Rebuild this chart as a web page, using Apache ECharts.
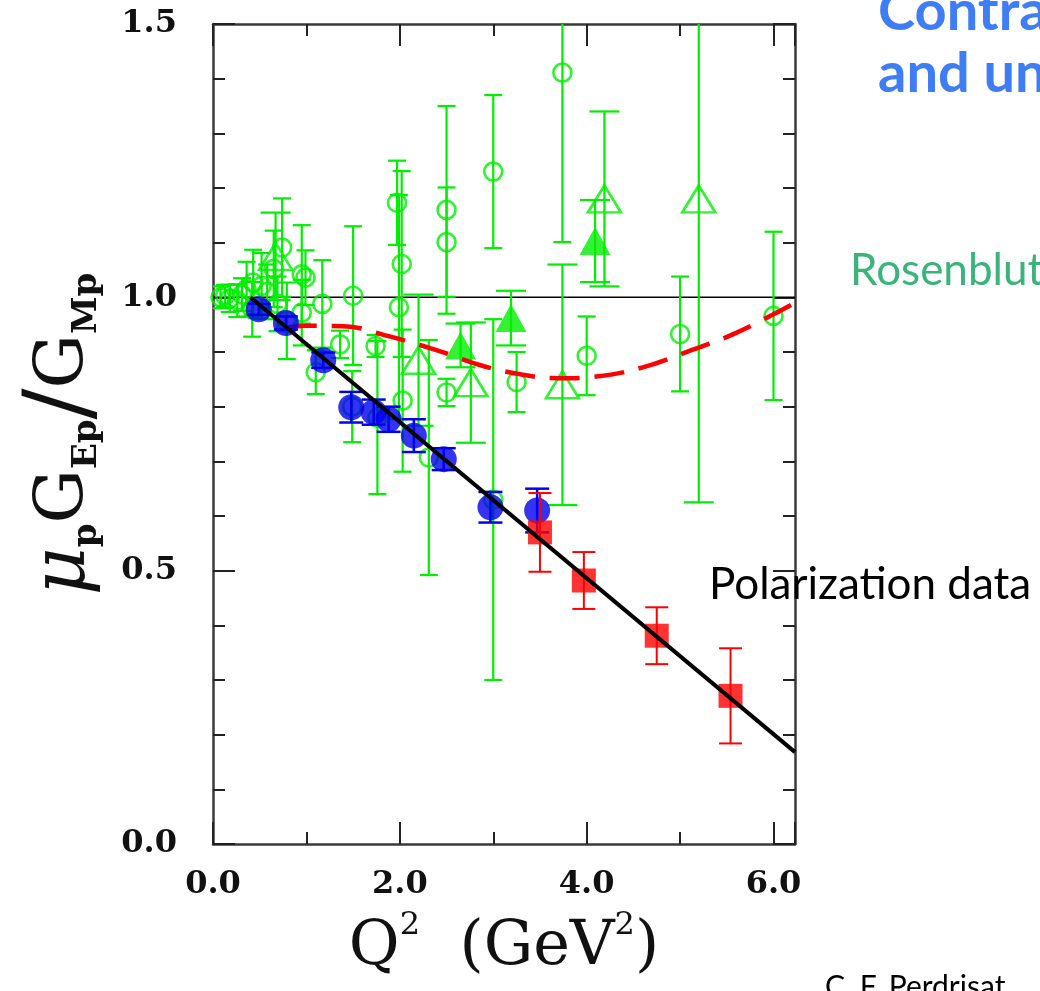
<!DOCTYPE html>
<html>
<head>
<meta charset="utf-8">
<script src="https://cdn.jsdelivr.net/npm/echarts@6/dist/echarts.min.js"></script>
<style>
html,body{margin:0;padding:0;background:#fff;}
#chart{width:1040px;height:991px;}
</style>
</head>
<body>
<div id="chart"></div>
<script>
// ---------------- data ----------------
// Rosenbluth (green) open circles: [Q2, ratio, error]
const rosenCircles = [
  [0.08, 1.000, 0.020], [0.13, 1.003, 0.020], [0.18, 0.998, 0.025],
  [0.26, 0.994, 0.030], [0.31, 1.005, 0.030], [0.36, 1.015, 0.050],
  [0.42, 0.978, 0.050], [0.43, 1.027, 0.060], [0.52, 1.021, 0.060],
  [0.58, 1.010, 0.050], [0.65, 1.052, 0.070], [0.69, 0.988, 0.050],
  [0.74, 1.091, 0.090], [0.79, 0.957, 0.070], [0.95, 1.042, 0.090],
  [0.99, 1.036, 0.050], [0.95, 0.972, 0.060], [1.17, 0.988, 0.080],
  [1.10, 0.863, 0.040], [1.36, 0.914, 0.025], [1.50, 1.003, 0.127],
  [1.49, 0.800, 0.065], [1.74, 0.911, 0.020], [1.76, 0.780, 0.140],
  [1.97, 1.173, 0.077], [2.02, 1.061, 0.170], [1.99, 0.982, 0.205],
  [2.03, 0.811, 0.130], [2.31, 0.707, 0.215], [2.50, 1.160, 0.190],
  [2.50, 1.101, 0.100], [2.50, 0.826, 0.025], [3.00, 1.230, 0.140],
  [3.00, 0.630, 0.330], [3.25, 0.845, 0.055], [3.74, 1.411, 0.310],
  [4.00, 0.893, 0.072], [5.00, 0.933, 0.105], [6.00, 0.966, 0.154]
];
// Rosenbluth open triangles
const rosenTriOpen = [
  [0.67, 1.075, 0.080], [2.20, 0.885, 0.120], [2.76, 0.844, 0.110],
  [3.74, 0.840, 0.220], [4.19, 1.180, 0.160], [5.20, 1.180, 0.555]
];
// Rosenbluth filled triangles
const rosenTriFilled = [
  [2.65, 0.912, 0.040], [3.19, 0.962, 0.050], [4.09, 1.103, 0.075]
];
// Polarization data (blue circles)
const polBlue = [
  [0.49, 0.978, 0.010], [0.78, 0.953, 0.012], [1.18, 0.885, 0.014],
  [1.48, 0.799, 0.028], [1.72, 0.790, 0.023], [1.88, 0.777, 0.023],
  [2.15, 0.747, 0.030], [2.47, 0.704, 0.020], [2.97, 0.616, 0.028],
  [3.47, 0.610, 0.040]
];
// Polarization data (red squares)
const polRed = [
  [3.50, 0.570, 0.072], [3.97, 0.482, 0.052], [4.75, 0.381, 0.052],
  [5.54, 0.271, 0.087]
];
// Linear fit (black)
const fitLine = [[0.40, 1.000], [6.23, 0.168]];
// Dashed red curve
const dashedCurve = [
  [0.79, 0.945], [1.00, 0.948], [1.40, 0.947], [1.90, 0.928], [2.40, 0.903],
  [2.90, 0.874], [3.40, 0.856], [3.70, 0.852], [4.10, 0.855], [4.60, 0.872],
  [5.10, 0.902], [5.60, 0.935], [6.23, 0.990]
];
// Unity reference line
const unityLine = [[0, 1.0], [6.23, 1.0]];

const xMin = 0, xMax = 6.23;
const yMin = 0, yMax = 1.5;
const yTickLabels = ['0.0', '0.5', '1.0', '1.5'];
const xTickLabels = ['0.0', '2.0', '4.0', '6.0'];

// ---------------- chart ----------------
const GREEN = '#00ee00';
const BLUE = '#0000ee';
const RED = '#ff0000';

function errorBars(data, color, cap, width, z) {
  return {
    type: 'custom', data: data, z: z, clip: true, silent: true, animation: false,
    encode: { x: 0, y: 1 },
    renderItem: function (params, api) {
      const x = api.value(0), y = api.value(1), e = api.value(2);
      const t = api.coord([x, y + e]);
      const b = api.coord([x, y - e]);
      const st = { stroke: color, lineWidth: width };
      return {
        type: 'group',
        children: [
          { type: 'line', shape: { x1: t[0], y1: t[1], x2: b[0], y2: b[1] }, style: st },
          { type: 'line', shape: { x1: t[0] - cap, y1: t[1], x2: t[0] + cap, y2: t[1] }, style: st },
          { type: 'line', shape: { x1: b[0] - cap, y1: b[1], x2: b[0] + cap, y2: b[1] }, style: st }
        ]
      };
    }
  };
}

const axisLineStyle = { color: '#3a3a3a', width: 2.5 };
const tickStyle = { color: '#222', width: 2 };
const tickFont = { fontFamily: 'DejaVu Serif', fontWeight: 'bold', fontSize: 32, color: '#111' };

function xAx(pos, interval, len, withLine, withLabel) {
  const a = {
    type: 'value', min: xMin, max: xMax, interval: interval, position: pos, gridIndex: 0,
    axisLine: { show: withLine, onZero: false, lineStyle: axisLineStyle },
    axisTick: { show: true, inside: true, length: len, lineStyle: tickStyle },
    axisLabel: { show: false },
    splitLine: { show: false }
  };
  if (withLabel) {
    a.axisLabel = Object.assign({
      show: true, margin: 25, showMaxLabel: false,
      formatter: function (v) {
        const i = Math.round(v / 2);
        return (Math.abs(v - i * 2) < 1e-6 && xTickLabels[i] !== undefined) ? xTickLabels[i] : '';
      }
    }, tickFont);
    a.name = '{a|Q}{sup|2}{a|  (GeV}{sup|2}{a|)}';
    a.nameLocation = 'middle';
    a.nameGap = 62;
    a.nameTextStyle = {
      rich: {
        a: { fontFamily: 'DejaVu Serif', fontSize: 62, color: '#111', lineHeight: 84 },
        sup: { fontFamily: 'DejaVu Serif', fontSize: 32, color: '#111', lineHeight: 32, padding: [0, 0, 44, 0] }
      }
    };
  }
  return a;
}

function yAx(pos, withLabel) {
  const a = {
    type: 'value', min: yMin, max: yMax, interval: 0.5, position: pos, gridIndex: 0,
    axisLine: { show: true, onZero: false, lineStyle: axisLineStyle },
    axisTick: { show: true, inside: true, length: 22, lineStyle: tickStyle },
    minorTick: { show: true, splitNumber: 5, length: 12, lineStyle: tickStyle },
    axisLabel: { show: false },
    splitLine: { show: false }
  };
  if (withLabel) {
    a.axisLabel = Object.assign({
      show: true, margin: 36,
      formatter: function (v) { const i = Math.round(v / 0.5); return yTickLabels[i] || ''; }
    }, tickFont);
    a.name = '{mu|μ}{sub|p}{g|G}{sub|Ep}{sl|/}{g|G}{sub|Mp}';
    a.nameLocation = 'middle';
    a.nameGap = 100;
    a.nameRotate = 90;
    a.nameTextStyle = {
      rich: {
        mu: { fontFamily: 'DejaVu Serif', fontStyle: 'italic', fontSize: 74, color: '#111', lineHeight: 84 },
        g: { fontFamily: 'DejaVu Serif', fontSize: 68, color: '#111', lineHeight: 84 },
        sl: { fontFamily: 'DejaVu Serif', fontSize: 92, color: '#111', lineHeight: 84 },
        sub: { fontFamily: 'DejaVu Serif', fontWeight: 'bold', fontSize: 34, color: '#111', lineHeight: 36, padding: [46, 0, 0, 0] }
      }
    };
  }
  return a;
}

const chart = echarts.init(document.getElementById('chart'), null, { renderer: 'canvas' });

const option = {
  animation: false,
  backgroundColor: '#ffffff',
  grid: { left: 213, right: 245, top: 24, bottom: 146, containLabel: false },
  xAxis: [
    xAx('bottom', 1, 12, true, true),
    xAx('bottom', 2, 22, false, false),
    xAx('top', 1, 12, true, false),
    xAx('top', 2, 22, false, false)
  ],
  yAxis: [yAx('left', true), yAx('right', false)],
  series: [
    {
      type: 'line', data: unityLine, z: 1, symbol: 'none', silent: true,
      lineStyle: { color: '#000', width: 1.5 }
    },
    errorBars(rosenCircles, GREEN, 9, 2.2, 2),
    errorBars(rosenTriOpen, GREEN, 15, 2.2, 2),
    errorBars(rosenTriFilled, GREEN, 15, 2.2, 2),
    {
      type: 'scatter', data: rosenCircles, z: 3, symbol: 'circle', symbolSize: 18,
      itemStyle: { color: 'rgba(255,255,255,0)', borderColor: GREEN, borderWidth: 2.6 }
    },
    {
      type: 'scatter', data: rosenTriOpen, z: 3, symbol: 'triangle', symbolSize: [33, 27],
      itemStyle: { color: 'rgba(255,255,255,0)', borderColor: GREEN, borderWidth: 2.6 }
    },
    {
      type: 'scatter', data: rosenTriFilled, z: 3, symbol: 'triangle', symbolSize: [31, 28],
      itemStyle: { color: GREEN }
    },
    {
      type: 'line', data: dashedCurve, z: 4, symbol: 'none', smooth: 0.4, silent: true,
      lineStyle: { color: RED, width: 4.5, type: [30, 15] }
    },
    errorBars(polBlue, BLUE, 12, 2.5, 5),
    {
      type: 'scatter', data: polBlue, z: 5, symbol: 'circle', symbolSize: 26,
      itemStyle: { color: BLUE }
    },
    errorBars(polRed, RED, 11.5, 2, 6),
    {
      type: 'scatter', data: polRed, z: 6, symbol: 'rect', symbolSize: 24,
      itemStyle: { color: RED }
    },
    {
      type: 'line', data: fitLine, z: 7, symbol: 'none', silent: true,
      lineStyle: { color: '#000', width: 4 }
    }
  ],
  graphic: [
    { type: 'text', left: 878, top: -16, z: 10, style: { text: 'Contra', fill: '#3f7df5', font: 'bold 56px "Comic Sans MS", Lato, sans-serif' } },
    { type: 'text', left: 878, top: 46, z: 10, style: { text: 'and un', fill: '#3f7df5', font: 'bold 56px "Comic Sans MS", Lato, sans-serif' } },
    { type: 'text', left: 850, top: 249, z: 10, style: { text: 'Rosenblut', fill: '#3cb37a', font: '44px Lato, "Open Sans", sans-serif' } },
    { type: 'text', left: 709, top: 563, z: 10, style: { text: 'Polarization data', fill: '#000', font: '44px Lato, "Open Sans", sans-serif' } },
    { type: 'text', left: 825, top: 972, z: 10, style: { text: 'C. F. Perdrisat', fill: '#000', font: '30px Lato, "Open Sans", sans-serif' } }
  ]
};
chart.setOption(option);
</script>
</body>
</html>
